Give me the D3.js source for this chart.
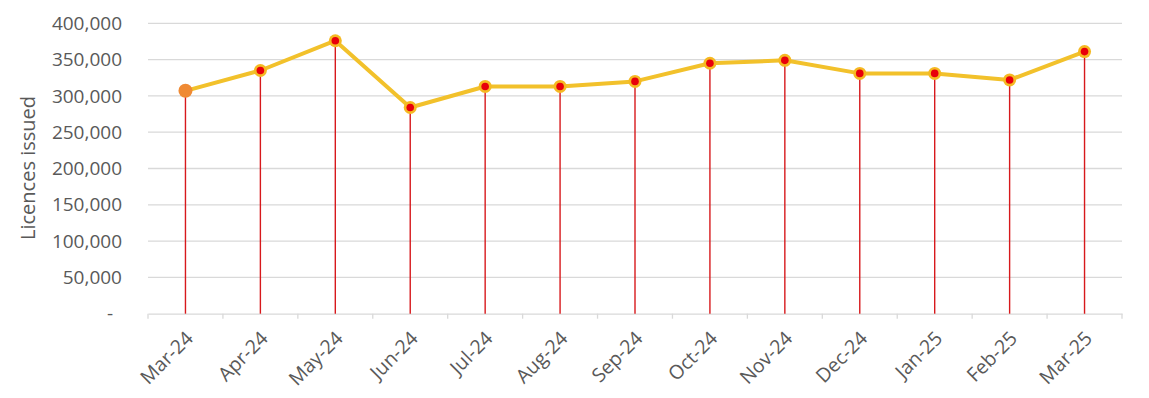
<!DOCTYPE html>
<html><head><meta charset="utf-8">
<script src="https://cdn.jsdelivr.net/npm/d3@7"></script>
<style>
html,body{margin:0;padding:0;background:#fff;}
svg{display:block;font-family:"Open Sans",sans-serif;}
</style></head>
<body>
<svg id="chart" width="1149" height="398"></svg>
<script>
const months = ["Mar-24","Apr-24","May-24","Jun-24","Jul-24","Aug-24","Sep-24","Oct-24","Nov-24","Dec-24","Jan-25","Feb-25","Mar-25"];
const licences = [307000,335000,376000,284000,313000,313000,320000,345000,349000,331000,331000,322000,361000];
const yTicks = [0,50000,100000,150000,200000,250000,300000,350000,400000];
const yTitle = "Licences issued";

(function(){
const svg = d3.select("#chart");
const pLeft = 148, pRight = 1122, pTop = 23.3, pBottom = 313.7;

const x = d3.scaleBand().domain(months).range([pLeft, pRight]).padding(0);
const y = d3.scaleLinear().domain([0, 400000]).range([pBottom, pTop]);
const fmt = d3.format(",");

// gridlines
svg.append("g").selectAll("line").data(yTicks.filter(d => d > 0)).join("line")
  .attr("x1", pLeft).attr("x2", pRight)
  .attr("y1", d => y(d)).attr("y2", d => y(d))
  .attr("stroke", "#d9d9d9").attr("stroke-width", 1.3);

// y labels
svg.append("g").selectAll("text").data(yTicks).join("text")
  .attr("x", d => d === 0 ? 113 : 122)
  .attr("y", d => y(d))
  .attr("dy", "0.35em")
  .attr("text-anchor", "end")
  .attr("fill", "#595959")
  .attr("font-size", 19)
  .text(d => d === 0 ? "-" : fmt(d));

// x axis
const xAxis = d3.axisBottom(x).tickSize(0).tickFormat("");
const gx = svg.append("g").attr("transform", `translate(0,${pBottom})`).call(xAxis);
gx.select(".domain").attr("stroke", "#d9d9d9").attr("stroke-width", 1.3);
const bounds = months.map(m => x(m)).concat([pRight]);
svg.append("g").selectAll("line").data(bounds).join("line")
  .attr("x1", d => d).attr("x2", d => d)
  .attr("y1", pBottom).attr("y2", pBottom + 5)
  .attr("stroke", "#d9d9d9").attr("stroke-width", 1.3);

// x labels
svg.append("g").selectAll("text").data(months).join("text")
  .attr("transform", d => `translate(${x(d) + x.bandwidth()/2 + 4},${pBottom + 21}) rotate(-45)`)
  .attr("text-anchor", "end")
  .attr("dy", "0.35em")
  .attr("fill", "#595959")
  .attr("font-size", 19.5)
  .text(d => d);

// y title
svg.append("text")
  .attr("transform", `translate(35,168) rotate(-90)`)
  .attr("text-anchor", "middle")
  .attr("fill", "#595959")
  .attr("font-size", 20)
  .text(yTitle);

const cx = d => x(d) + x.bandwidth()/2;

// drop lines
svg.append("g").selectAll("line").data(months).join("line")
  .attr("x1", d => cx(d)).attr("x2", d => cx(d))
  .attr("y1", pBottom).attr("y2", (d, i) => y(licences[i]))
  .attr("stroke", "#d7191c").attr("stroke-width", 1.4);

// line
const line = d3.line().x((d, i) => cx(months[i])).y(d => y(d));
svg.append("path").datum(licences)
  .attr("d", line).attr("fill", "none")
  .attr("stroke", "#f2c12b").attr("stroke-width", 4).attr("stroke-linejoin", "round");

// markers
svg.append("g").selectAll("circle").data(licences).join("circle")
  .attr("cx", (d, i) => cx(months[i])).attr("cy", d => y(d))
  .attr("r", (d, i) => i === 0 ? 7 : 6.5)
  .attr("fill", (d, i) => i === 0 ? "#ef8a34" : "#f5b922");
svg.append("g").selectAll("circle").data(licences.slice(1)).join("circle")
  .attr("cx", (d, i) => cx(months[i + 1])).attr("cy", d => y(d))
  .attr("r", 3.8)
  .attr("fill", "#e8000b");
})();
</script>
</body></html>
